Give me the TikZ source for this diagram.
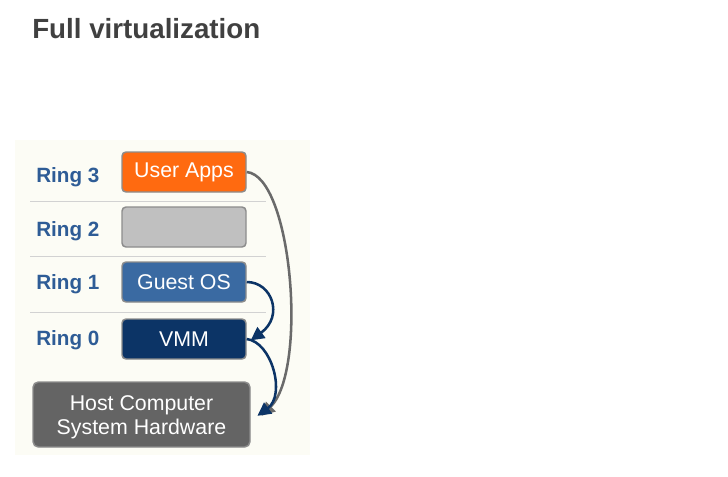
\documentclass[tikz,border=0pt]{standalone}
\usepackage{fontspec}
\setmainfont{Liberation Sans}
\usetikzlibrary{arrows.meta}
\definecolor{panelbg}{HTML}{FCFCF5}
\definecolor{ringblue}{HTML}{2E5C96}
\definecolor{uaorange}{HTML}{FF6A10}
\definecolor{ringgrey}{HTML}{C0C0C0}
\definecolor{guestblue}{HTML}{3A6AA2}
\definecolor{vmmnavy}{HTML}{0C3466}
\definecolor{hostgrey}{HTML}{646464}
\definecolor{boxborder}{HTML}{8C8C8C}
\definecolor{sepgrey}{HTML}{D2D2D2}
\definecolor{titlegrey}{HTML}{404040}
\definecolor{arrowgrey}{HTML}{6A6A6A}
\tikzset{
  ringlabel/.style={anchor=base west, inner sep=0pt, text=ringblue, font=\fontsize{15.5}{18}\selectfont\bfseries},
  ringbox/.style={draw=boxborder, line width=1.1pt, rounded corners=3pt, minimum width=93pt, minimum height=30pt, inner sep=0pt, text=white, font=\fontsize{16}{19}\selectfont},
  seprule/.style={draw=sepgrey, line width=0.7pt},
  callarrow/.style={line width=1.9pt, -{Triangle[length=10pt,width=10pt]}}
}
\begin{document}
\begin{tikzpicture}[x=0.75pt,y=-0.75pt]
\useasboundingbox (0,0) rectangle (728,476);
\fill[white] (0,0) rectangle (728,476);
% title
\node[anchor=west, inner sep=0pt, text=titlegrey, font=\fontsize{20.8}{25}\selectfont\bfseries] (title) at (32,29) {Full virtualization};
% panel
\fill[panelbg] (15,140) rectangle (310,455);
% separators
\draw[seprule] (30,201) -- (266,201);
\draw[seprule] (30,256) -- (266,256);
\draw[seprule] (30,312) -- (266,312);
% ring labels
\node[ringlabel] (r3) at (36,182) {Ring 3};
\node[ringlabel] (r2) at (36,236) {Ring 2};
\node[ringlabel] (r1) at (36,289) {Ring 1};
\node[ringlabel] (r0) at (36,345) {Ring 0};
% boxes
\node[ringbox, fill=uaorange] (ua) at (184,172) {User Apps};
\node[ringbox, fill=ringgrey] (rg) at (184,227) {};
\node[ringbox, fill=guestblue] (guest) at (184,282) {Guest OS};
\node[ringbox, fill=vmmnavy] (vmm) at (184,339) {VMM};
\node[draw=boxborder, line width=1.1pt, rounded corners=4pt, fill=hostgrey, minimum width=162.75pt, minimum height=48.75pt, inner sep=0pt, text=white, align=center, font=\fontsize{16}{18}\selectfont] (host) at (141.5,414.5) {\rule{0pt}{16pt}Host Computer\\System Hardware};
% connectors
\draw[callarrow, draw=arrowgrey] (ua.east) .. controls (292,176) and (308,370) .. ([xshift=8pt,yshift=-1pt]host.east);
\draw[callarrow, draw=vmmnavy] (guest.east) .. controls (272,282) and (284,316) .. ([xshift=3pt,yshift=-1pt]vmm.east);
\draw[callarrow, draw=vmmnavy] (vmm.east) .. controls (272,342) and (286,395) .. ([xshift=5pt,yshift=-1pt]host.east);
\end{tikzpicture}
\end{document}
